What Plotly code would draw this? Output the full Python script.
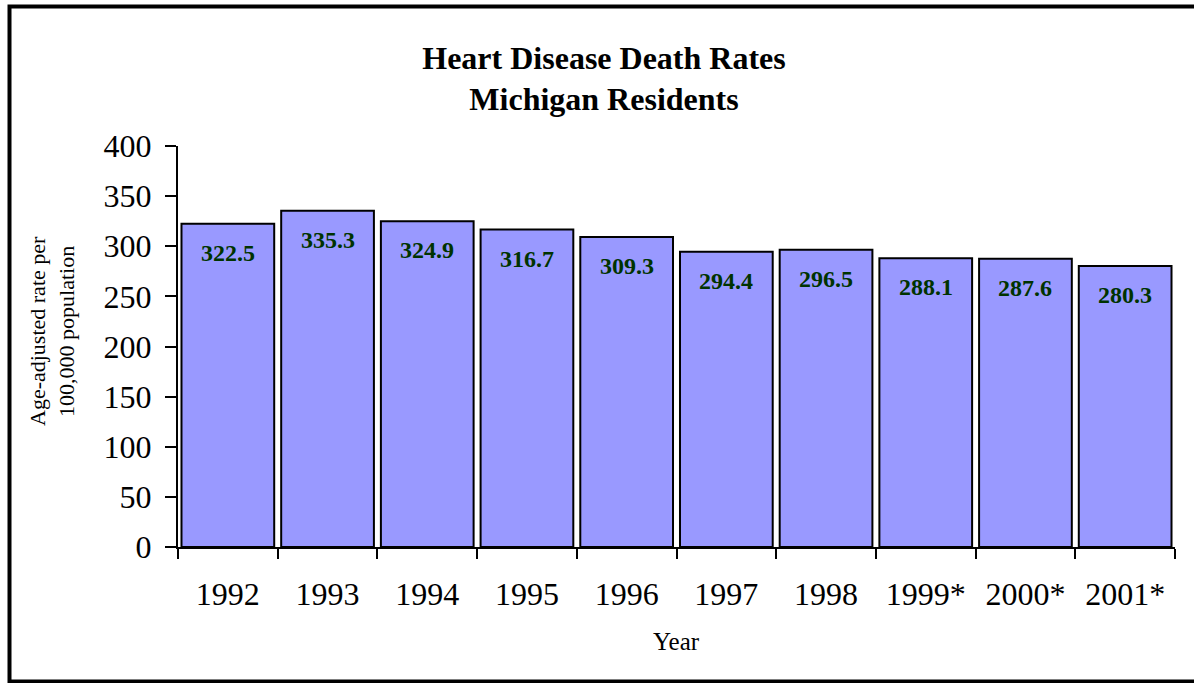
import plotly.graph_objects as go

years = ["1992", "1993", "1994", "1995", "1996", "1997", "1998", "1999*", "2000*", "2001*"]
rates = [322.5, 335.3, 324.9, 316.7, 309.3, 294.4, 296.5, 288.1, 287.6, 280.3]
y_ticks = [0, 50, 100, 150, 200, 250, 300, 350, 400]

FONT = "Times New Roman, Liberation Serif, serif"

L, R, T, B = 178, 19, 146, 136
W, H = 1194, 683
pw = W - L - R
ph = H - T - B

fig = go.Figure()
fig.add_trace(go.Bar(
    x=years, y=rates,
    marker=dict(color="#9999FF", line=dict(color="black", width=2)),
    hoverinfo="x+y",
))

annotations = []
for i, v in enumerate(rates):
    annotations.append(dict(
        x=i, y=v, xref="x", yref="y", text="<b>%.1f</b>" % v,
        showarrow=False, yshift=-29, yanchor="middle",
        font=dict(family=FONT, size=24, color="#003300"),
    ))

# y-axis title
annotations.append(dict(
    x=(52 - L) / pw, y=(547 - 331) / ph, xref="paper", yref="paper",
    text="Age-adjusted rate per<br>100,000 population", textangle=-90,
    showarrow=False, xanchor="center", yanchor="middle",
    font=dict(family=FONT, size=22, color="black"),
))
# x-axis title
annotations.append(dict(
    x=(676 - L) / pw, y=(547 - 641) / ph, xref="paper", yref="paper",
    text="Year", showarrow=False, xanchor="center", yanchor="middle",
    font=dict(family=FONT, size=25, color="black"),
))

fig.update_layout(
    width=W, height=H,
    margin=dict(l=L, r=R, t=T, b=B, autoexpand=False),
    paper_bgcolor="white", plot_bgcolor="white",
    bargap=0.07,
    showlegend=False,
    title=dict(
        text="<b>Heart Disease Death Rates<br>Michigan Residents</b>",
        x=604 / W, xanchor="center", y=1 - 68.5 / H, yanchor="middle",
        font=dict(family=FONT, size=32, color="black"),
    ),
    annotations=annotations,
    shapes=[dict(
        type="rect", xref="paper", yref="paper",
        x0=(9.5 - L) / pw, x1=(1197 - L) / pw,
        y0=(547 - 681.5) / ph, y1=(547 - 6.5) / ph,
        line=dict(color="black", width=4), fillcolor="rgba(0,0,0,0)",
        layer="below",
    )],
    xaxis=dict(
        type="category", range=[-0.5, len(years) - 0.5], autorange=False,
        showgrid=False, showline=True, linecolor="black", linewidth=2,
        ticks="outside", tickson="boundaries", ticklen=10, tickwidth=2, tickcolor="black",
        tickangle=0,
        tickfont=dict(family=FONT, size=32, color="black"), ticklabelstandoff=18,
    ),
    yaxis=dict(
        range=[0, 400], autorange=False, tickvals=y_ticks, showgrid=False, zeroline=False,
        showline=True, linecolor="black", linewidth=2,
        ticks="outside", ticklen=11, tickwidth=2, tickcolor="black",
        tickfont=dict(family=FONT, size=32, color="black"), ticklabelstandoff=7,
    ),
)

fig.write_html("out.html", config={"displayModeBar": False},
               post_script="document.body.style.margin='0';")
